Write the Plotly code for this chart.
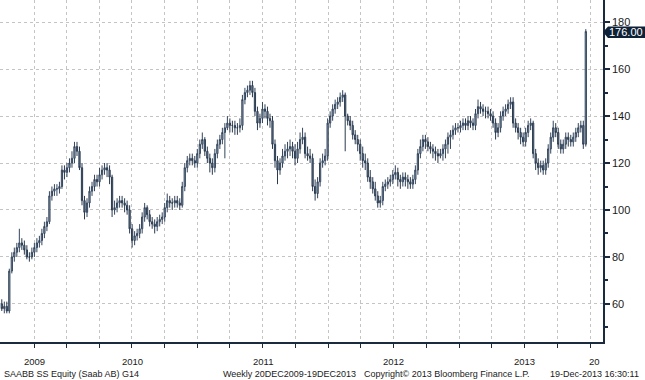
import plotly.graph_objects as go
import pandas as pd

# Weekly bars, first week ending 2009-07-03, last week ending 2013-12-20
first_week = "2009-07-03"
closes = [
    58, 59, 57, 74, 80, 82, 84, 86, 85, 83,
    80, 80, 82, 84, 86, 87, 90, 93, 95, 106,
    108, 109, 109, 110, 117, 116, 118, 120, 122, 127,
    125, 118, 104, 99, 103, 108, 110, 113, 112, 115,
    117, 118, 117, 114, 100, 101, 103, 104, 103, 102,
    100, 92, 87, 89, 90, 92, 97, 101, 98, 95,
    94, 93, 95, 96, 97, 101, 104, 103, 103, 104,
    103, 102, 110, 118, 121, 122, 121, 120, 124, 128,
    130, 125, 122, 120, 118, 124, 128, 130, 133, 135,
    137, 136, 136, 135, 135, 136, 147, 150, 151, 153,
    150, 142, 137, 139, 143, 142, 139, 138, 128, 121,
    117, 120, 123, 125, 126, 127, 125, 122, 126, 130,
    131, 124, 123, 122, 110, 107, 112, 120, 121, 123,
    137, 140, 143, 145, 146, 148, 149, 140, 138, 136,
    132, 130, 128, 124, 121, 120, 114, 112, 109, 106,
    103, 104, 110, 111, 112, 113, 115, 116, 113, 112,
    114, 113, 112, 111, 113, 117, 124, 127, 130, 129,
    127, 126, 125, 124, 123, 124, 126, 128, 131, 132,
    134, 135, 135, 136, 137, 136, 138, 137, 136, 141,
    144, 143, 142, 142, 141, 140, 137, 133, 135, 140,
    142, 143, 145, 146, 137, 135, 133, 131, 129, 133,
    136, 137, 124, 120, 118, 119, 117, 120, 126, 131,
    135, 133, 128, 126, 128, 131, 130, 129, 131, 133,
    135, 136, 128, 176,
]
opens = [60] + closes[:-1]
highs = [
    62, 61, 61, 75, 82, 84, 86, 92, 88, 87,
    85, 82, 84, 86, 88, 89, 92, 95, 97, 108,
    110, 111, 111, 112, 119, 119, 120, 122, 125, 129,
    129, 127, 120, 106, 105, 110, 112, 115, 115, 118,
    119, 120, 120, 119, 115, 104, 105, 106, 106, 105,
    104, 102, 94, 91, 92, 94, 99, 103, 102, 100,
    97, 96, 97, 98, 99, 103, 107, 106, 105, 106,
    106, 105, 112, 120, 123, 124, 124, 123, 126, 130,
    133, 131, 127, 124, 122, 126, 130, 132, 135, 137,
    140, 139, 138, 138, 137, 139, 149, 152, 153, 155,
    155, 152, 144, 141, 146, 145, 144, 141, 140, 130,
    123, 122, 126, 128, 129, 130, 129, 128, 129, 133,
    135, 133, 127, 126, 124, 113, 114, 122, 124, 126,
    139, 142, 145, 147, 148, 150, 151, 150, 141, 140,
    138, 134, 132, 130, 127, 124, 122, 117, 114, 112,
    108, 106, 112, 113, 114, 115, 117, 119, 118, 115,
    116, 116, 115, 114, 115, 119, 126, 130, 132, 132,
    131, 129, 128, 127, 126, 126, 128, 130, 133, 134,
    136, 137, 137, 138, 139, 139, 140, 140, 139, 143,
    147, 146, 145, 144, 144, 143, 142, 139, 137, 142,
    144, 145, 147, 148, 148, 139, 137, 135, 133, 135,
    138, 139, 138, 126, 122, 121, 121, 122, 128, 133,
    138, 137, 135, 130, 130, 133, 133, 132, 133, 135,
    137, 138, 138, 177,
]
lows = [
    57, 56, 56, 56, 73, 78, 80, 82, 83, 81,
    79, 78, 79, 80, 82, 84, 85, 88, 91, 94,
    104, 106, 106, 107, 109, 113, 114, 116, 118, 120,
    123, 117, 102, 96, 97, 101, 106, 108, 110, 110,
    113, 115, 114, 111, 97, 98, 99, 101, 101, 99,
    98, 90, 84, 85, 87, 88, 90, 95, 96, 93,
    92, 90, 91, 93, 94, 95, 99, 101, 100, 101,
    101, 100, 101, 108, 116, 119, 119, 118, 118, 122,
    126, 123, 120, 116, 115, 116, 122, 126, 128, 122,
    134, 133, 133, 132, 132, 133, 134, 145, 148, 149,
    148, 140, 134, 135, 137, 139, 136, 135, 126, 118,
    111, 115, 118, 121, 122, 123, 122, 119, 120, 124,
    128, 122, 121, 120, 108, 104, 105, 110, 118, 119,
    121, 135, 138, 141, 143, 144, 146, 125, 136, 134,
    130, 128, 125, 121, 118, 117, 112, 109, 107, 104,
    101, 101, 102, 108, 109, 110, 111, 113, 110, 109,
    110, 110, 109, 109, 109, 111, 115, 122, 125, 126,
    125, 124, 122, 121, 120, 122, 121, 122, 124, 126,
    130, 132, 133, 133, 134, 134, 134, 135, 134, 134,
    139, 141, 140, 139, 139, 138, 135, 130, 131, 133,
    138, 140, 141, 143, 135, 133, 130, 128, 127, 127,
    131, 134, 122, 117, 115, 116, 115, 115, 118, 124,
    129, 131, 126, 124, 124, 126, 127, 127, 127, 129,
    131, 133, 126, 127,
]
dates = pd.date_range(first_week, periods=len(closes), freq="7D")

y_ticks = [60, 80, 100, 120, 140, 160, 180]
quarter_ticks = pd.date_range("2009-10-01", "2014-01-01", freq="QS")
year_labels = ["2009", "2010", "2011", "2012", "2013"]
year_label_pos = ["2009-10-01", "2010-07-02", "2011-07-02", "2012-07-01", "2013-07-02"]
last_value = "176.00"
footer = [
    ("SAABB SS Equity (Saab AB) G14", 2),
    ("Weekly 20DEC2009-19DEC2013", 221),
    ("Copyright\u00a9 2013 Bloomberg Finance L.P.", 362),
    ("19-Dec-2013 16:30:11", 548),
]

W, H = 645, 380
PW, PH = 603, 342
NAVY = "#1b2b3f"
FONT = "Liberation Sans, Arial"

def px(x):
    return x / PW

def py(y):
    return 1 - y / PH

fig = go.Figure(go.Candlestick(
    x=dates, open=opens, high=highs, low=lows, close=closes,
    increasing=dict(line=dict(color="#33455c", width=1), fillcolor="#9aabbe"),
    decreasing=dict(line=dict(color="#2a3b50", width=1), fillcolor="#6f8197"),
    whiskerwidth=0, hoverinfo="skip", showlegend=False,
))

annotations = []
for lab, pos in zip(year_labels, year_label_pos):
    annotations.append(dict(x=pos, xref="x", y=py(361), yref="paper", text=lab,
                            showarrow=False, xanchor="center", yanchor="middle",
                            font=dict(family=FONT, size=9.5, color="#1a1a1a")))
annotations.append(dict(x=px(587), xref="paper", y=py(361), yref="paper", text="20",
                        showarrow=False, xanchor="left", yanchor="middle",
                        font=dict(family=FONT, size=9.5, color="#1a1a1a")))
for txt, xpos in footer:
    annotations.append(dict(x=px(xpos), xref="paper", y=py(374), yref="paper", text=txt,
                            showarrow=False, xanchor="left", yanchor="middle",
                            font=dict(family=FONT, size=9, color="#1a1a1a")))
annotations.append(dict(x=px(626), xref="paper", y=py(32), yref="paper", text=last_value,
                        showarrow=False, xanchor="center", yanchor="middle",
                        font=dict(family=FONT, size=11, color="white")))

box_pts = [(603, 32), (608, 26.5), (645, 26.5), (645, 38), (608, 38)]
path = "M " + " L ".join(f"{px(a):.5f},{py(b):.5f}" for a, b in box_pts) + " Z"

fig.update_layout(
    width=W, height=H,
    margin=dict(l=0, r=W - PW, t=0, b=H - PH),
    paper_bgcolor="white", plot_bgcolor="white",
    annotations=annotations,
    shapes=[dict(type="path", path=path, xref="paper", yref="paper",
                 fillcolor="#0e2136", line=dict(width=0), layer="above")],
    xaxis=dict(
        type="date", range=["2009-06-28", "2014-02-06"],
        rangeslider=dict(visible=False),
        tickvals=list(quarter_ticks), showticklabels=False,
        ticks="outside", ticklen=4, tickcolor=NAVY, tickwidth=1,
        showgrid=True, gridcolor="#c4c4c4", griddash="dot", gridwidth=1,
        showline=True, linecolor=NAVY, linewidth=1.5, zeroline=False,
    ),
    yaxis=dict(
        side="right", range=[43.8, 189.4],
        tickvals=y_ticks, ticks="outside", ticklen=5, tickcolor=NAVY, tickwidth=2,
        tickfont=dict(family=FONT, size=11, color="#1a1a1a"),
        showgrid=True, gridcolor="#c4c4c4", griddash="dot", gridwidth=1,
        showline=True, linecolor=NAVY, linewidth=1.5, zeroline=False,
        minor=dict(tickvals=[50, 70, 90, 110, 130, 150, 170], ticklen=3,
                   tickcolor=NAVY, showgrid=False, ticks="outside"),
    ),
)

fig.write_html("out.html", config={"displayModeBar": False},
               post_script="document.body.style.margin='0';document.body.style.overflow='hidden';")
